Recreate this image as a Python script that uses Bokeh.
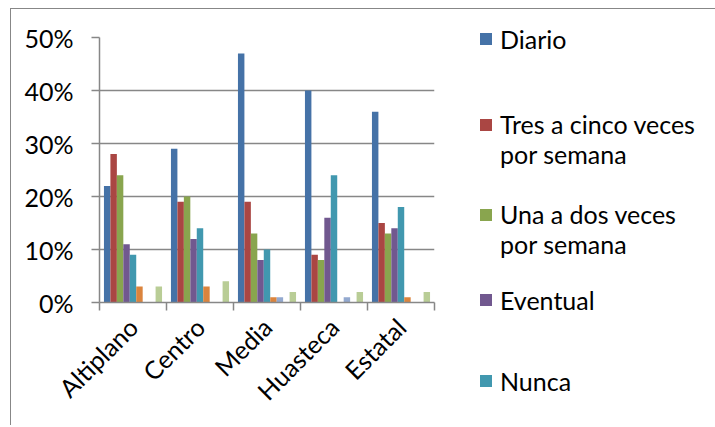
import math
from bokeh.plotting import figure
from bokeh.models import (ColumnDataSource, Range1d, LinearAxis, FixedTicker,
                          NumeralTickFormatter, CustomJSTickFormatter, Legend, LegendItem, Grid)
from bokeh.transform import dodge
from bokeh.embed import file_html
from bokeh.resources import INLINE

# ---- data (percent) ----
cats = ["Altiplano", "Centro", "Media", "Huasteca", "Estatal"]
legend_labels = ["Diario", "Tres a cinco veces\npor semana", "Una a dos veces\npor semana",
                 "Eventual", "Nunca"]
diario = [22, 29, 47, 40, 36]
tres_cinco = [28, 19, 19, 9, 15]
una_dos = [24, 20, 13, 8, 13]
eventual = [11, 12, 8, 16, 14]
nunca = [9, 14, 10, 24, 18]
serie6 = [3, 3, 1, 0, 1]
serie7 = [0, 0, 1, 1, 0]
serie8 = [0, 0, 0, 0, 0]
serie9 = [3, 4, 2, 2, 2]
y_ticks = [0, 10, 20, 30, 40, 50]

colors = ["#4572A7", "#AA4643", "#89A54E", "#71588F", "#4198AF",
          "#DB843D", "#93A9CF", "#D19392", "#B9CD96"]
FONT = "Lato"
GRAY = "#878787"
FS = "25px"

values = [diario, tres_cinco, una_dos, eventual, nunca, serie6, serie7, serie8, serie9]
data = {"cat": cats, "idx": list(range(len(cats)))}
for i, v in enumerate(values):
    data[f"s{i}"] = [x / 100 for x in v]
src = ColumnDataSource(data)

p = figure(x_range=Range1d(0, len(cats)),
           y_range=Range1d(0, max(y_ticks) / 100),
           frame_width=335, frame_height=265,
           min_border_left=88, min_border_right=280, min_border_top=28, min_border_bottom=123,
           output_backend="svg", toolbar_location=None,
           x_axis_location=None, y_axis_location=None)
p.outline_line_color = None
for g in p.grid:
    g.visible = False
p.styles = {"margin-left": "10px", "margin-top": "8px",
            "border-left": "1.5px solid #878787", "border-top": "1.5px solid #878787"}

n = len(values)
side = 0.0665
w = (1 - 2 * side) / n
renderers = []
for i in range(n):
    off = side + (i + 0.5) * w
    r = p.vbar(x=dodge("idx", off), top=f"s{i}", width=w, source=src,
               fill_color=colors[i], line_color=None)
    renderers.append(r)

# y axis
yaxis = LinearAxis(ticker=FixedTicker(ticks=[t / 100 for t in y_ticks]),
                   formatter=NumeralTickFormatter(format="0%"))
yaxis.axis_line_color = GRAY
yaxis.axis_line_width = 1.5
yaxis.major_tick_line_color = GRAY
yaxis.major_tick_line_width = 1.5
yaxis.major_tick_out = 8
yaxis.major_tick_in = 0
yaxis.minor_tick_line_color = None
yaxis.major_label_standoff = 18
yaxis.major_label_text_font = FONT
yaxis.major_label_text_font_size = FS
yaxis.major_label_text_color = "black"
p.add_layout(yaxis, "left")
p.add_layout(Grid(dimension=1, axis=yaxis, grid_line_color=GRAY, grid_line_width=1.5))

# x axis: boundary ticks, labels at centres
xaxis = LinearAxis(ticker=FixedTicker(ticks=[i + 0.5 for i in range(len(cats))],
                                      minor_ticks=list(range(len(cats) + 1))),
                   formatter=CustomJSTickFormatter(args=dict(labels=cats),
                                                   code="return labels[Math.floor(tick)] || ''"))
xaxis.axis_line_color = GRAY
xaxis.axis_line_width = 1.5
xaxis.major_tick_line_color = None
xaxis.major_tick_out = 0
xaxis.major_tick_in = 0
xaxis.minor_tick_line_color = GRAY
xaxis.minor_tick_line_width = 1.5
xaxis.minor_tick_out = 8
xaxis.minor_tick_in = 0
xaxis.major_label_orientation = math.pi / 4
xaxis.major_label_standoff = 12
xaxis.major_label_text_font = FONT
xaxis.major_label_text_font_size = FS
xaxis.major_label_text_color = "black"
p.add_layout(xaxis, "below")


def key_text(label):
    # put an empty first line before wrapped labels so the key square sits on the first text line
    return "\u00a0\n" + label if "\n" in label else label


legend = Legend(items=[LegendItem(label=key_text(t), renderers=[renderers[i]])
                       for i, t in enumerate(legend_labels)],
                location=(44, -119))
legend.glyph_width = 15
legend.glyph_height = 15
legend.label_standoff = 7
legend.padding = 0
legend.margin = 0
legend.border_line_color = None
legend.background_fill_alpha = 0
legend.label_text_font = FONT
legend.label_text_font_size = FS
legend.label_text_color = "black"
legend.label_text_line_height = 1.3
legend.label_height = 81
legend.spacing = 0
p.add_layout(legend, "right")

open("out.html", "w").write(file_html(p, INLINE))
